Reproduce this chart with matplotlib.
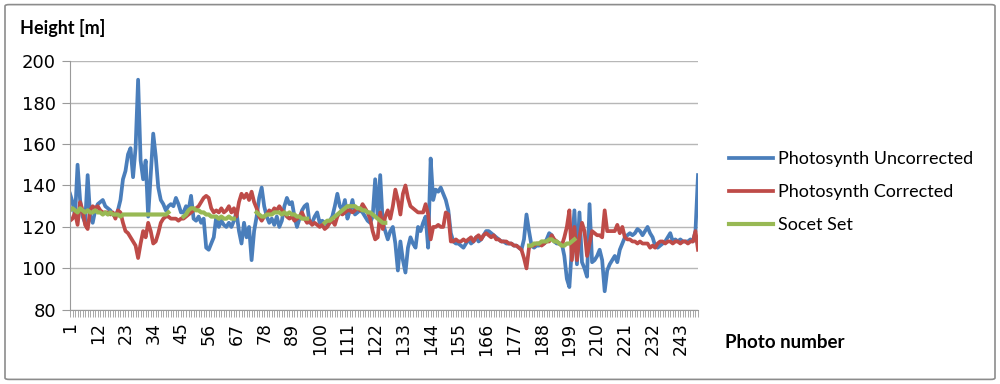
import numpy as np
import matplotlib.pyplot as plt
from matplotlib.patches import FancyBboxPatch

# Photo numbers 1..250
photo = np.arange(1, 251)

# Photosynth uncorrected heights (m)
uncorrected = [
    136, 132, 125, 150, 133, 125, 122, 145, 125, 122,
    128, 131, 132, 133, 130, 129, 128, 126, 125, 128,
    133, 143, 147, 155, 158, 144, 158, 191, 152, 143,
    152, 125, 145, 165, 154, 139, 133, 131, 128, 130,
    131, 130, 134, 131, 127, 127, 130, 128, 135, 124,
    123, 125, 122, 124, 110, 109, 112, 115, 125, 120,
    123, 121, 120, 122, 120, 123, 127, 118, 112, 122,
    115, 120, 104, 118, 125, 134, 139, 130, 125, 122,
    124, 121, 125, 120, 123, 130, 134, 131, 132, 125,
    120, 124, 128, 130, 131, 122, 122, 125, 127, 122,
    123, 122, 121, 123, 125, 130, 136, 130, 128, 133,
    124, 128, 133, 126, 127, 128, 127, 125, 123, 122,
    125, 143, 125, 145, 122, 118, 114, 118, 120, 112,
    99, 113, 104, 98, 110, 115, 112, 110, 120, 118,
    122, 125, 110, 153, 133, 138, 137, 139, 136, 133,
    128, 117, 113, 112, 112, 111, 110, 112, 114, 112,
    113, 115, 113, 114, 116, 118, 118, 117, 116, 115,
    114, 113, 113, 112, 112, 112, 111, 111, 110, 109,
    114, 126, 118, 111, 110, 111, 111, 112, 112, 114,
    117, 116, 113, 112, 112, 112, 106, 95, 91, 110,
    128, 102, 127, 103, 100, 96, 131, 103, 104, 106,
    109, 104, 89, 99, 102, 104, 106, 103, 109, 112,
    115, 116, 117, 116, 117, 119, 118, 116, 118, 120,
    117, 115, 111, 110, 111, 112, 113, 115, 117, 113,
    114, 113, 114, 113, 113, 113, 114, 113, 118, 145,
]

# Photosynth corrected heights (m)
corrected = [
    123, 124, 127, 121, 132, 128, 121, 119, 128, 130,
    129, 130, 128, 127, 127, 127, 126, 127, 124, 128,
    127, 122, 118, 117, 115, 113, 111, 105, 112, 118,
    115, 122, 118, 112, 113, 117, 122, 124, 125, 125,
    124, 124, 124, 123, 124, 124, 125, 126, 127, 128,
    129, 130, 132, 134, 135, 134, 129, 127, 128, 127,
    129, 127, 128, 130, 127, 129, 125, 132, 136, 134,
    136, 133, 137, 132, 129, 125, 123, 125, 126, 128,
    127, 129, 128, 130, 128, 127, 125, 124, 125, 123,
    124, 125, 127, 124, 122, 123, 121, 122, 121, 120,
    121, 119, 120, 122, 123, 121, 125, 127, 126, 127,
    128, 128, 127, 128, 129, 128, 131, 129, 127, 124,
    118, 114, 115, 127, 119, 125, 128, 124, 130, 138,
    133, 126, 136, 140, 134, 130, 129, 128, 127, 127,
    127, 131, 126, 114, 120, 120, 121, 120, 120, 127,
    126, 113, 113, 114, 113, 113, 114, 113, 114, 115,
    113, 115, 116, 114, 116, 117, 116, 115, 116, 114,
    114, 113, 113, 113, 112, 112, 111, 111, 110, 109,
    105, 100, 110, 111, 111, 112, 112, 111, 112, 113,
    113, 116, 114, 113, 112, 111, 115, 120, 128, 104,
    120, 104, 115, 122, 118, 106, 112, 118, 117, 116,
    116, 115, 128, 118, 118, 118, 118, 121, 117, 120,
    115, 114, 114, 113, 113, 112, 113, 112, 112, 112,
    110, 111, 110, 112, 113, 113, 112, 113, 113, 112,
    113, 113, 112, 113, 113, 112, 113, 113, 118, 109,
]

# Socet Set heights (m), only available on some stretches: (first photo, values)
socet_segments = [
    (1, [128, 129, 128, 127, 129, 128, 127, 128, 127, 127,
         128, 127, 127, 126, 127, 126, 127, 126, 126, 126,
         125, 126, 126, 126, 126, 126, 126, 126, 126, 126,
         126, 126, 126, 126, 126, 126, 126, 126, 126, 127]),
    (46, [125, 126, 128, 129, 129, 128, 128, 127, 127, 126,
          126, 125, 125, 125, 124, 125, 124, 124, 125, 124, 124]),
    (75, [127, 126, 125, 125, 126, 126, 126, 127, 127, 127,
          126, 127, 126, 127, 126, 126, 125, 125, 124, 124, 124]),
    (102, [122, 123, 123, 124, 125, 126, 127, 128, 129, 130,
           130, 130, 130, 129, 129, 128, 128, 127, 127, 126,
           125, 124, 123, 122, 122]),
    (183, [111, 111, 112, 112, 112, 113, 113, 113, 114, 114,
           113, 113, 112, 111, 111, 112, 112, 113, 114]),
]

socet = np.full(len(photo), np.nan)
for start, vals in socet_segments:
    socet[start - 1:start - 1 + len(vals)] = vals

label_photos = list(range(1, 251, 11))

blue = '#4A7EBB'
red = '#BE4B48'
green = '#98B954'
grid_col = '#B7B7B7'

fig = plt.figure(figsize=(10, 3.84), dpi=100)
ax = fig.add_axes([0.070, 0.193, 0.628, 0.648])

ax.plot(photo, uncorrected, color=blue, lw=2.7, label='Photosynth Uncorrected', solid_joinstyle='round')
ax.plot(photo, corrected, color=red, lw=2.7, label='Photosynth Corrected', solid_joinstyle='round')
ax.plot(photo, socet, color=green, lw=3.0, label='Socet Set', solid_joinstyle='round')

ax.set_xlim(1, 250)
ax.set_ylim(80, 200)
ax.set_yticks(range(80, 201, 20))
ax.yaxis.grid(True, color=grid_col, lw=1)
ax.set_axisbelow(True)

ax.set_xticks(label_photos)
ax.set_xticklabels([str(v) for v in label_photos], rotation=90, fontsize=12.5)
ax.set_xticks(photo, minor=True)
ax.tick_params(axis='x', which='both', length=5, color='#9A9A9A', width=0.6, pad=4)
ax.tick_params(axis='y', length=6, color='#9A9A9A', labelsize=13, pad=4)

for side in ['top', 'right']:
    ax.spines[side].set_visible(False)
for side in ['left', 'bottom']:
    ax.spines[side].set_color('#9A9A9A')

fig.text(0.020, 0.927, 'Height [m]', fontsize=13, fontweight='bold', family='Lato', va='center')
fig.text(0.725, 0.107, 'Photo number', fontsize=13.5, fontweight='bold', family='Lato', va='center')

fig.legend(loc='center left', bbox_to_anchor=(0.713, 0.500), frameon=False,
           prop={'family': 'Lato', 'size': 13}, handlelength=2.4, handletextpad=0.3,
           labelspacing=0.95)

border = FancyBboxPatch((0.005, 0.012), 0.990, 0.976, boxstyle='round,pad=0,rounding_size=0.004',
                        transform=fig.transFigure, fill=False, edgecolor='#8C8C8C', lw=1.2)
fig.patches.append(border)

fig.savefig('out.png', dpi=100)
